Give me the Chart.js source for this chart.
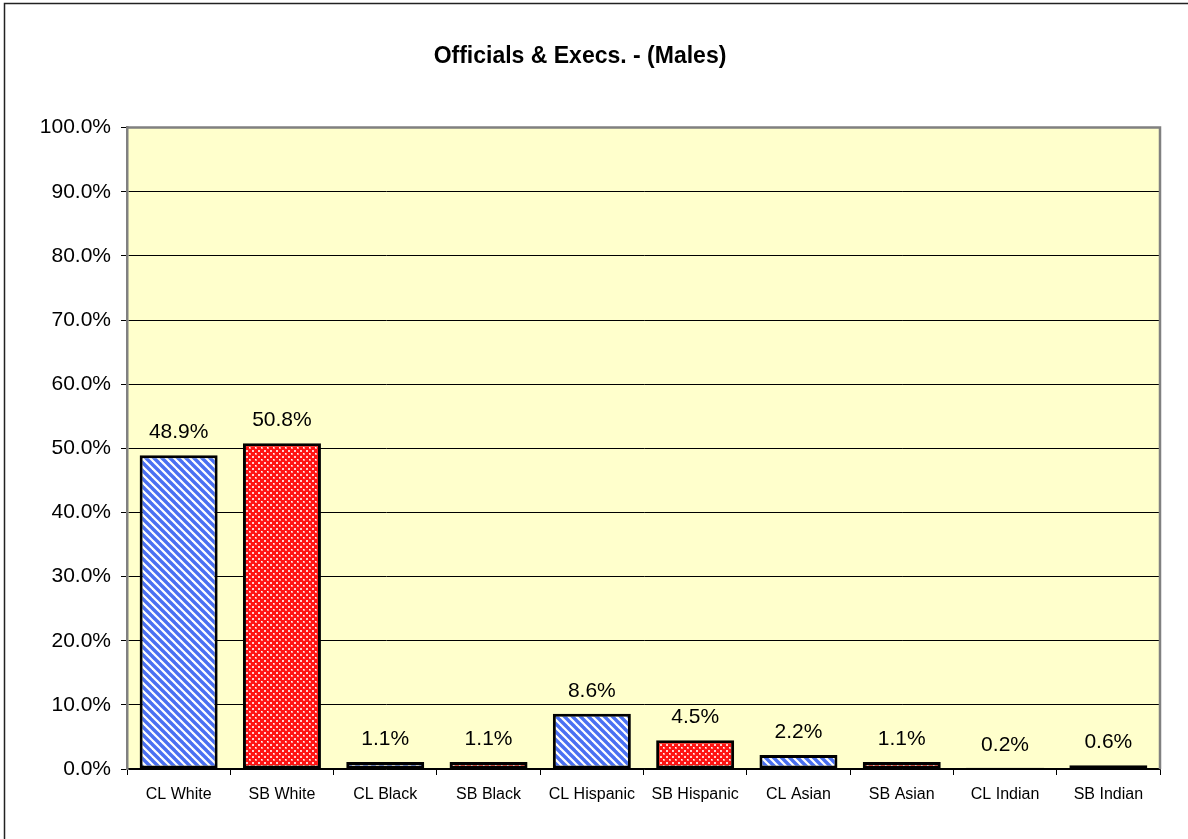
<!DOCTYPE html>
<html>
<head>
<meta charset="utf-8">
<script src="https://cdn.jsdelivr.net/npm/chart.js@4.4.1/dist/chart.umd.min.js"></script>
<style>
  html, body { margin: 0; padding: 0; background: #fff; }
  #wrap { width: 1188px; height: 839px; }
</style>
</head>
<body>
<div id="wrap"><canvas id="grafico" width="1188" height="839"></canvas></div>
<script>
const categorias = ["CL White", "SB White", "CL Black", "SB Black", "CL Hispanic", "SB Hispanic", "CL Asian", "SB Asian", "CL Indian", "SB Indian"]
const valores = [48.9, 50.8, 1.1, 1.1, 8.6, 4.5, 2.2, 1.1, 0.2, 0.6]
const tituloTexto = "Officials & Execs. - (Males)"
const fonte = "'Liberation Sans', Arial, sans-serif"

// padrao listrado azul
const padraoAzul = () => {
    const c = document.createElement("canvas")
    c.width = 8; c.height = 8
    const g = c.getContext("2d")
    g.fillStyle = "#ffffff"
    g.fillRect(0, 0, 8, 8)
    g.strokeStyle = "#4a70f2"
    g.lineWidth = 3.4
    for (let k = -8; k <= 8; k += 8) {
        g.beginPath()
        g.moveTo(k - 2, -2)
        g.lineTo(k + 10, 10)
        g.stroke()
    }
    return g.createPattern(c, "repeat")
}

// padrao vermelho com cruzinhas brancas
const padraoVermelho = () => {
    const c = document.createElement("canvas")
    c.width = 6; c.height = 6
    const g = c.getContext("2d")
    g.fillStyle = "#ff1414"
    g.fillRect(0, 0, 6, 6)
    g.fillStyle = "#ffd0d0"
    g.fillRect(0, 0, 2, 2)
    g.fillStyle = "#ff9a9a"
    g.fillRect(3, 3, 2, 2)
    g.fillStyle = "#ffffff"
    g.fillRect(3, 3, 1, 1)
    return g.createPattern(c, "repeat")
}

const azul = padraoAzul()
const vermelho = padraoVermelho()
const cores = categorias.map((c, i) => i % 2 == 0 ? azul : vermelho)

const fundo = {
    id: "fundo",
    beforeDraw(chart) {
        const ctx = chart.ctx
        const a = chart.chartArea
        ctx.save()
        ctx.fillStyle = "#ffffff"
        ctx.fillRect(0, 0, chart.width, chart.height)
        ctx.strokeStyle = "#222222"
        ctx.lineWidth = 1.5
        ctx.strokeRect(4.5, 3.5, 1300, 1000)
        ctx.fillStyle = "#ffffcc"
        ctx.fillRect(a.left, a.top, a.right - a.left, a.bottom - a.top)
        ctx.restore()
    },
    afterDatasetsDraw(chart) {
        const ctx = chart.ctx
        const a = chart.chartArea
        ctx.save()
        ctx.strokeStyle = "#808080"
        ctx.lineWidth = 2.5
        ctx.beginPath()
        ctx.moveTo(a.left, a.top)
        ctx.lineTo(a.right, a.top)
        ctx.lineTo(a.right, a.bottom)
        ctx.stroke()
        // rotulos dos valores
        ctx.fillStyle = "#000"
        ctx.font = "21px " + fonte
        ctx.textAlign = "center"
        ctx.textBaseline = "middle"
        chart.getDatasetMeta(0).data.forEach((bar, i) => {
            ctx.fillText(valores[i].toFixed(1) + "%", bar.x, bar.y - 23)
        })
        ctx.restore()
    }
}

new Chart(document.getElementById("grafico"), {
    type: "bar",
    data: {
        labels: categorias,
        datasets: [{
            data: valores,
            backgroundColor: cores,
            borderColor: "#000000",
            borderWidth: 3,
            borderSkipped: false,
            categoryPercentage: 1,
            barPercentage: 0.755
        }]
    },
    options: {
        responsive: false,
        animation: false,
        layout: { padding: { left: 0, right: 28, top: 0, bottom: 0 } },
        plugins: {
            legend: { display: false },
            tooltip: { enabled: false },
            title: {
                display: true,
                text: tituloTexto,
                color: "#000",
                font: { family: fonte, size: 23, weight: "bold" },
                padding: { top: 43, bottom: 57 }
            }
        },
        scales: {
            x: {
                afterFit: s => { s.height = 70 },
                grid: { offset: true, drawOnChartArea: false, color: "#000", tickLength: 6 },
                border: { color: "#000", width: 1.5 },
                ticks: { color: "#000", font: { family: fonte, size: 16 }, maxRotation: 0, padding: 10 }
            },
            y: {
                min: 0,
                max: 100,
                afterFit: s => { s.width = 127 },
                grid: { color: "#000", lineWidth: 1, tickLength: 6 },
                border: { color: "#808080", width: 2.5 },
                ticks: {
                    stepSize: 10,
                    color: "#000",
                    padding: 10,
                    font: { family: fonte, size: 21 },
                    callback: v => v.toFixed(1) + "%"
                }
            }
        }
    },
    plugins: [fundo]
})
</script>
</body>
</html>
